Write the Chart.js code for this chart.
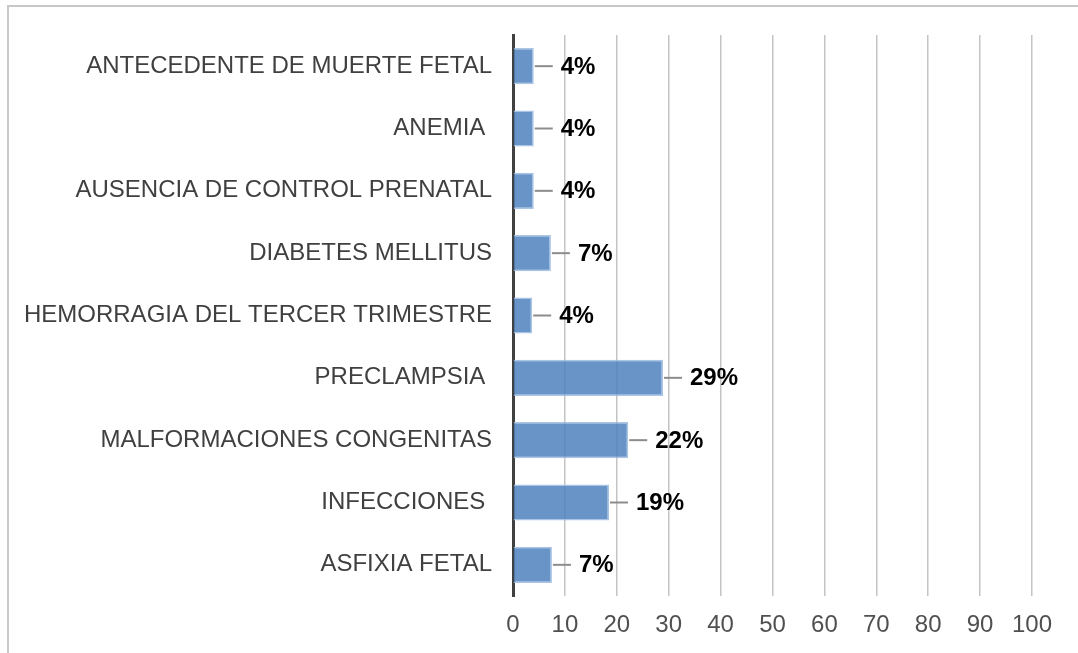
<!DOCTYPE html>
<html>
<head>
<meta charset="utf-8">
<script src="https://cdn.jsdelivr.net/npm/chart.js@4/dist/chart.umd.min.js"></script>
<style>
html,body{margin:0;padding:0;background:#fff;}
#wrap{position:relative;width:1078px;height:653px;}
</style>
</head>
<body>
<div id="wrap"><canvas id="c" width="1078" height="653"></canvas></div>
<script>
const categories = [
  'ANTECEDENTE DE MUERTE FETAL',
  'ANEMIA ',
  'AUSENCIA DE CONTROL PRENATAL',
  'DIABETES MELLITUS',
  'HEMORRAGIA DEL TERCER TRIMESTRE',
  'PRECLAMPSIA ',
  'MALFORMACIONES CONGENITAS',
  'INFECCIONES ',
  'ASFIXIA FETAL'
];
const values = [4.0, 4.0, 4.0, 7.3, 3.7, 28.9, 22.2, 18.5, 7.5];
const valueLabels = ['4%', '4%', '4%', '7%', '4%', '29%', '22%', '19%', '7%'];
const xTicks = [0, 10, 20, 30, 40, 50, 60, 70, 80, 90, 100];

const framePlugin = {
  id: 'frame',
  beforeDraw(chart) {
    const ctx = chart.ctx;
    ctx.save();
    ctx.fillStyle = '#ffffff';
    ctx.fillRect(0, 0, chart.width, chart.height);
    ctx.strokeStyle = '#c8c8c8';
    ctx.lineWidth = 2;
    ctx.beginPath();
    ctx.moveTo(8, 653);
    ctx.lineTo(8, 6);
    ctx.lineTo(1078, 6);
    ctx.stroke();
    ctx.restore();
  }
};

const labelPlugin = {
  id: 'valueLabels',
  afterDatasetsDraw(chart) {
    const ctx = chart.ctx;
    const meta = chart.getDatasetMeta(0);
    ctx.save();
    meta.data.forEach((bar, i) => {
      const x = bar.x;
      const y = bar.y;
      ctx.strokeStyle = '#8c8c8c';
      ctx.lineWidth = 2;
      ctx.beginPath();
      ctx.moveTo(x + 1, y);
      ctx.lineTo(x + 19, y);
      ctx.stroke();
      ctx.fillStyle = '#000000';
      ctx.font = 'bold 24px "Liberation Sans", Arial, sans-serif';
      ctx.textAlign = 'left';
      ctx.textBaseline = 'middle';
      ctx.fillText(valueLabels[i], x + 27, y + 1);
    });
    ctx.restore();
  }
};

new Chart(document.getElementById('c'), {
  type: 'bar',
  data: {
    labels: categories,
    datasets: [{
      data: values,
      backgroundColor: 'rgba(79,129,189,0.85)',
      borderColor: 'rgba(160,190,226,0.9)',
      borderWidth: 1.5,
      barPercentage: 0.66,
      categoryPercentage: 0.88
    }]
  },
  options: {
    indexAxis: 'y',
    responsive: false,
    animation: false,
    layout: { padding: { top: 35, right: 46, bottom: 0, left: 0 } },
    plugins: {
      legend: { display: false },
      tooltip: { enabled: false }
    },
    scales: {
      x: {
        min: 0,
        max: 100,
        afterBuildTicks(scale) { scale.ticks = xTicks.map(v => ({ value: v })); },
        afterFit(scale) { scale.height = 57; },
        grid: { color: '#c4c4c4', lineWidth: 1.5, drawTicks: false },
        border: { display: false },
        ticks: {
          color: '#505050',
          padding: 15,
          font: { family: '"Liberation Sans", Arial, sans-serif', size: 24 }
        }
      },
      y: {
        afterFit(scale) { scale.width = 513; },
        grid: { display: false },
        border: { display: true, color: '#404040', width: 3 },
        ticks: {
          color: '#404040',
          padding: 13,
          font: { family: '"Liberation Sans", Arial, sans-serif', size: 24 }
        }
      }
    }
  },
  plugins: [framePlugin, labelPlugin]
});
</script>
</body>
</html>
